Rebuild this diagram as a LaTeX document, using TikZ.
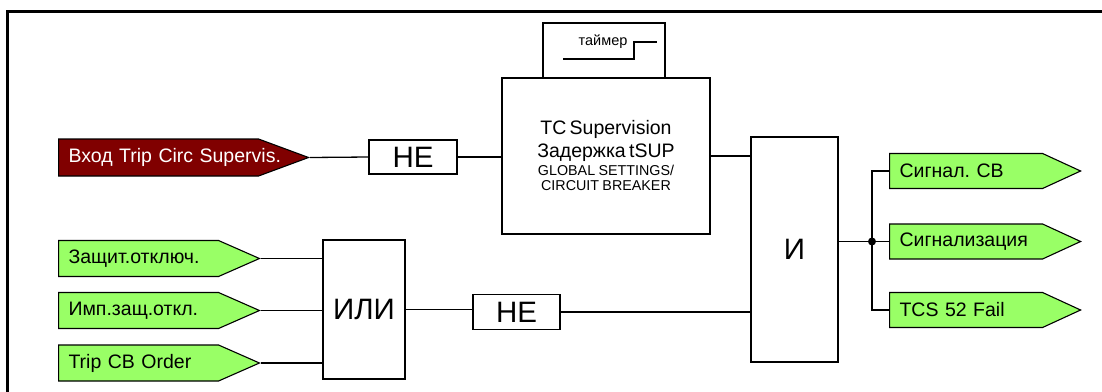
\documentclass[tikz,border=0pt]{standalone}
\usepackage{fontspec}
\setmainfont{Liberation Sans}
\usetikzlibrary{shapes.symbols}
\definecolor{maroonfill}{HTML}{800000}
\definecolor{greenfill}{HTML}{99FF66}
\frenchspacing
\begin{document}
\frenchspacing
\begin{tikzpicture}[x=1pt,y=-1pt,
  wire/.style={line width=1.3pt},
  gate/.style={draw, line width=1.3pt, fill=white, inner sep=0pt, font=\fontsize{29.5}{29.5}\selectfont},
  sigbase/.style={signal, signal to=east, draw, line width=1.1pt, inner xsep=10pt, inner ysep=0pt,
    align=left, anchor=west, font=\fontsize{19.5}{19.5}\selectfont},
  insig/.style={sigbase, fill=greenfill, text width=140pt, minimum height=36pt, signal pointer angle=47.5},
  outsig/.style={sigbase, fill=greenfill, text width=133pt, minimum height=35pt, signal pointer angle=49.4}
]
\useasboundingbox (0,0) rectangle (1102,391);
\clip (0,0) rectangle (1102,391);
% frame
\draw[line width=3pt] (7.5,400) -- (7.5,11) -- (1110,11);

% input red
\node[sigbase, fill=maroonfill, text=white, text width=180pt, minimum height=37pt, signal pointer angle=40.6] (trip) at (58,157.5) {\makebox[0pt][l]{Вход Trip Circ Supervis.}};

% gates
\node[gate, minimum width=88pt, minimum height=34pt] (ne1) at (413,157) {НЕ};
\node[draw, line width=1.3pt, inner sep=0pt, minimum width=122pt, minimum height=55pt] (timer) at (604,50.5) {};
\node[font=\fontsize{14.5}{14.5}\selectfont] (timertxt) at (603,42) {таймер};
\draw[wire] (563,59) -- (634,59) -- (634,42) -- (657,42);
\node[draw, line width=1.3pt, inner sep=0pt, minimum width=208pt, minimum height=156pt, text width=204pt, align=center] (tc) at (606,156)
  {\fontsize{19.5}{23}\selectfont TC Supervision\\Задержка tSUP\\[2pt]\fontsize{14.3}{16}\selectfont GLOBAL SETTINGS/\\[3pt]CIRCUIT BREAKER};
\node[gate, minimum width=87pt, minimum height=225pt] (and) at (794.5,249.5) {И};
\node[gate, minimum width=82pt, minimum height=139pt] (or) at (364,309.5) {ИЛИ};
\node[gate, minimum width=87pt, minimum height=35pt] (ne2) at (516.5,312) {НЕ};

% inputs green
\node[insig] (in1) at (58,258.5) {\makebox[0pt][l]{Защит.отключ.}};
\node[insig] (in2) at (58,310.5) {\makebox[0pt][l]{Имп.защ.откл.}};
\node[insig] (in3) at (58,363) {\makebox[0pt][l]{Trip CB Order}};

% outputs
\node[outsig] (o1) at (889,171) {\makebox[0pt][l]{Сигнал. CB}};
\node[outsig] (o2) at (889,241.5) {\makebox[0pt][l]{Сигнализация}};
\node[outsig] (o3) at (889,310) {\makebox[0pt][l]{TCS 52 Fail}};

\coordinate (j) at (872,241.5);

% connectors
\draw[wire] (trip.east) -- (ne1.west);
\draw[wire] (ne1.east) -- (ne1.east -| tc.west);
\draw[wire] (tc.east) -- (tc.east -| and.west);
\draw[wire] (in1.east) -- (in1.east -| or.west);
\draw[wire] (in2.east) -- (in2.east -| or.west);
\draw[wire] (in3.east) -- (in3.east -| or.west);
\draw[wire] (or.east) -- (or.east -| ne2.west);
\draw[wire] (ne2.east) -- (ne2.east -| and.west);
\draw[wire] (and.east |- j) -- (o2.west);
\draw[wire] (o1.west) -| (j) |- (o3.west);
\fill (j) circle (4pt);
\end{tikzpicture}
\end{document}
